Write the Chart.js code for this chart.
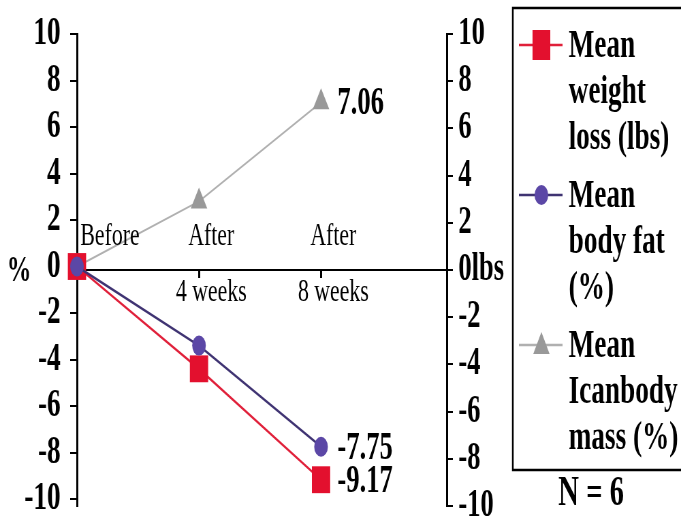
<!DOCTYPE html>
<html>
<head>
<meta charset="utf-8">
<script src="https://cdn.jsdelivr.net/npm/chart.js@4/dist/chart.umd.min.js"></script>
<style>
  html, body { margin: 0; padding: 0; background: #fff; overflow: hidden; }
  #wrap { width: 1000px; height: 540px; transform: scaleX(0.681); transform-origin: 0 0; }
</style>
</head>
<body>
<div id="wrap"><canvas id="chart" width="1000" height="540"></canvas></div>
<script>
// time points (x positions on the axis) and their two-line labels
const weekIdx = [0, 1, 2];
const topLabels = ['Before', 'After', 'After'];
const bottomLabels = ['', '4 weeks', '8 weeks'];

// series values
const weightLoss = [0, -4.4, -9.17];
const bodyFat = [0, -3.4, -7.75];
const leanMass = [0, 2.8, 7.06];

// axis ticks
const leftTicks = [-10, -8, -6, -4, -2, 0, 2, 4, 6, 8, 10];
const rightTicks = [-10, -8, -6, -4, -2, 0, 2, 4, 6, 8, 10];

// legend text, one line per row
const legendLines = [
    ['Mean', 'weight', 'loss (lbs)'],
    ['Mean', 'body fat', '(%)'],
    ['Mean', 'Icanbody', 'mass (%)']
];
const sampleNote = 'N = 6';

const SERIF = '"Liberation Serif", "Times New Roman", serif';

function toPoints(vals) {
    return vals.map((v, i) => ({ x: weekIdx[i], y: v }));
}

const datasets = [
    {
        label: 'Mean weight loss (lbs)',
        data: toPoints(weightLoss),
        borderColor: '#e0203a',
        backgroundColor: '#e3102e',
        pointStyle: 'rect',
        pointRadius: 19,
        pointBorderWidth: 0,
        borderWidth: 2.5,
        order: 1
    },
    {
        label: 'Mean body fat (%)',
        data: toPoints(bodyFat),
        borderColor: '#3f3372',
        backgroundColor: '#5b47a6',
        pointStyle: 'circle',
        pointRadius: 10,
        pointBorderWidth: 0,
        borderWidth: 2.5,
        order: 0
    },
    {
        label: 'Mean leanbody mass (%)',
        data: toPoints(leanMass),
        borderColor: '#b0b0b0',
        backgroundColor: '#999999',
        pointStyle: 'triangle',
        pointRadius: 14,
        pointBorderWidth: 0,
        borderWidth: 2,
        order: 2
    }
];

// top labels, end value labels, % sign, legend box and N note
const extras = {
    id: 'extras',
    afterDraw(chart) {
        const ctx = chart.ctx;
        const xs = chart.scales.x;
        const ys = chart.scales.y;
        const y0 = ys.getPixelForValue(0);
        ctx.save();
        ctx.fillStyle = '#000';
        ctx.textBaseline = 'middle';

        ctx.font = '32px ' + SERIF;
        topLabels.forEach((t, i) => {
            const px = xs.getPixelForValue(weekIdx[i]);
            ctx.textAlign = i === 0 ? 'left' : 'center';
            ctx.fillText(t, i === 0 ? px + 5 : px + 18, y0 - 33);
        });

        ctx.font = 'bold 39px ' + SERIF;
        ctx.textAlign = 'left';
        chart.data.datasets.forEach((ds, i) => {
            const meta = chart.getDatasetMeta(i);
            const last = meta.data[meta.data.length - 1];
            const v = ds.data[ds.data.length - 1].y;
            ctx.fillText(v.toFixed(2), last.x + 24, last.y + 2);
        });

        ctx.font = 'bold 36px ' + SERIF;
        ctx.textAlign = 'center';
        ctx.fillText('%', 28, y0 + 2);

        // legend
        ctx.strokeStyle = '#000';
        ctx.lineWidth = 2.5;
        ctx.strokeRect(753, 8, 320, 462);
        ctx.font = 'bold 40px ' + SERIF;
        ctx.textAlign = 'left';
        chart.data.datasets.forEach((ds, i) => {
            const ly = 45 + i * 150;
            ctx.strokeStyle = ds.borderColor;
            ctx.lineWidth = 2.5;
            ctx.beginPath();
            ctx.moveTo(762, ly);
            ctx.lineTo(826, ly);
            ctx.stroke();
            ctx.fillStyle = ds.backgroundColor;
            const cx = 795;
            ctx.beginPath();
            if (ds.pointStyle === 'rect') {
                ctx.rect(cx - 13, ly - 15, 26, 30);
            } else if (ds.pointStyle === 'circle') {
                ctx.arc(cx, ly, 10, 0, Math.PI * 2);
            } else {
                ctx.moveTo(cx, ly - 13);
                ctx.lineTo(cx + 12, ly + 9);
                ctx.lineTo(cx - 12, ly + 9);
                ctx.closePath();
            }
            ctx.fill();
            ctx.fillStyle = '#000';
            legendLines[i].forEach((line, j) => {
                ctx.fillText(line, 835, ly + 2 + j * 46);
            });
        });

        ctx.font = 'bold 42px ' + SERIF;
        ctx.textAlign = 'center';
        ctx.fillText(sampleNote, 868, 494);
        ctx.restore();
    }
};

const ctx = document.getElementById('chart').getContext('2d');
const chart = new Chart(ctx, {
    type: 'line',
    data: { datasets: datasets },
    options: {
        responsive: false,
        animation: false,
        clip: false,
        layout: { padding: { top: 30, bottom: 34, left: 0, right: 244 } },
        plugins: {
            legend: { display: false },
            tooltip: { enabled: false }
        },
        scales: {
            x: {
                type: 'linear',
                min: 0,
                max: 3.03,
                position: { y: 0 },
                afterBuildTicks: (s) => { s.ticks = weekIdx.map(v => ({ value: v })); },
                border: { display: true, color: '#000', width: 2 },
                grid: { drawOnChartArea: false, drawTicks: true, tickLength: 7, color: '#000', lineWidth: 3 },
                ticks: {
                    color: '#000',
                    padding: 0,
                    labelOffset: 18,
                    maxRotation: 0,
                    font: { family: SERIF, size: 32, lineHeight: 1 },
                    callback: (v) => bottomLabels[weekIdx.indexOf(v)] || ''
                }
            },
            yL: {
                type: 'linear',
                position: 'left',
                min: -10.3,
                max: 10,
                afterBuildTicks: (s) => { s.ticks = leftTicks.map(v => ({ value: v })); },
                afterFit: (s) => { s.width = 113; },
                border: { display: true, color: '#000', width: 3 },
                grid: { drawOnChartArea: false, drawTicks: true, tickLength: 10, color: '#000', lineWidth: 2 },
                ticks: {
                    color: '#000',
                    padding: 14,
                    font: { family: SERIF, size: 40, weight: 'bold', lineHeight: 1 }
                }
            },
            y: {
                type: 'linear',
                position: 'right',
                min: -10,
                max: 10,
                afterBuildTicks: (s) => { s.ticks = rightTicks.map(v => ({ value: v })); },
                afterFit: (s) => { s.width = 100; },
                border: { display: true, color: '#000', width: 3 },
                grid: { drawOnChartArea: false, drawTicks: true, tickLength: 9, color: '#000', lineWidth: 2 },
                ticks: {
                    color: '#000',
                    padding: 8,
                    font: { family: SERIF, size: 39, weight: 'bold', lineHeight: 1 },
                    callback: (v) => v === 0 ? '0lbs' : String(v)
                }
            }
        }
    },
    plugins: [extras]
});
</script>
</body>
</html>
